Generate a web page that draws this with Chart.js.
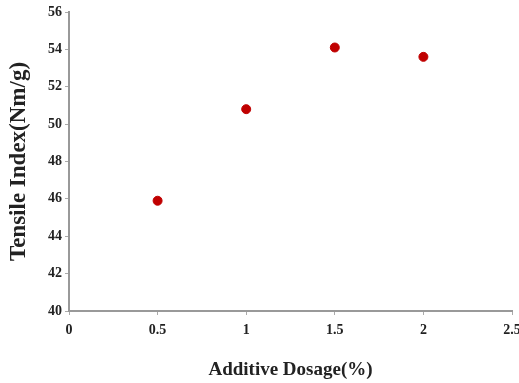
<!DOCTYPE html>
<html>
<head>
<meta charset="utf-8">
<script src="https://cdn.jsdelivr.net/npm/chart.js@4/dist/chart.umd.min.js"></script>
<style>
html,body{margin:0;padding:0;background:#fff;}
#wrap{width:519px;height:383px;position:relative;}
</style>
</head>
<body>
<div id="wrap"><canvas id="c"></canvas></div>
<script>
const dosage = [0.5, 1.0, 1.5, 2.0];
const tensileIndex = [45.9, 50.8, 54.1, 53.6];
const xTitle = 'Additive Dosage(%)';
const yTitle = 'Tensile Index(Nm/g)';

const points = dosage.map((x, i) => ({x: x, y: tensileIndex[i]}));
const tickFont = {family: 'Liberation Serif', size: 14, weight: 'bold'};

new Chart(document.getElementById('c'), {
  type: 'scatter',
  data: {
    datasets: [{
      data: points,
      backgroundColor: '#c00000',
      borderColor: '#c00000',
      pointRadius: 4.5,
      pointHoverRadius: 4.5
    }]
  },
  options: {
    responsive: true,
    maintainAspectRatio: false,
    animation: false,
    layout: {padding: {top: 12, right: 7, left: 0, bottom: 0}},
    plugins: {legend: {display: false}, tooltip: {enabled: false}},
    scales: {
      x: {
        type: 'linear',
        min: 0, max: 2.5,
        border: {display: true, color: '#999', width: 2},
        grid: {drawOnChartArea: false, color: '#aaa', tickLength: 4, lineWidth: 1},
        ticks: {stepSize: 0.5, color: '#222', font: tickFont, padding: 7, maxRotation: 0,
          callback: v => String(Math.round(v * 10) / 10)},
        title: {display: true, text: xTitle, color: '#222',
          font: {family: 'Liberation Serif', size: 19, weight: 'bold'}, padding: {top: 0, bottom: 2}},
        afterFit: s => { s.paddingRight = 0; s.paddingLeft = 0; s.height = 72; }
      },
      y: {
        min: 40, max: 56,
        border: {display: true, color: '#999', width: 2},
        grid: {drawOnChartArea: false, color: '#aaa', tickLength: 4, lineWidth: 1},
        ticks: {stepSize: 2, color: '#222', font: tickFont, padding: 3},
        title: {display: true, text: yTitle, color: '#222',
          font: {family: 'Liberation Serif', size: 23, weight: 'bold'}, padding: {top: 5, bottom: 0}},
        afterFit: s => { s.paddingTop = 0; s.paddingBottom = 0; s.width = 69; }
      }
    }
  }
});
</script>
</body>
</html>
